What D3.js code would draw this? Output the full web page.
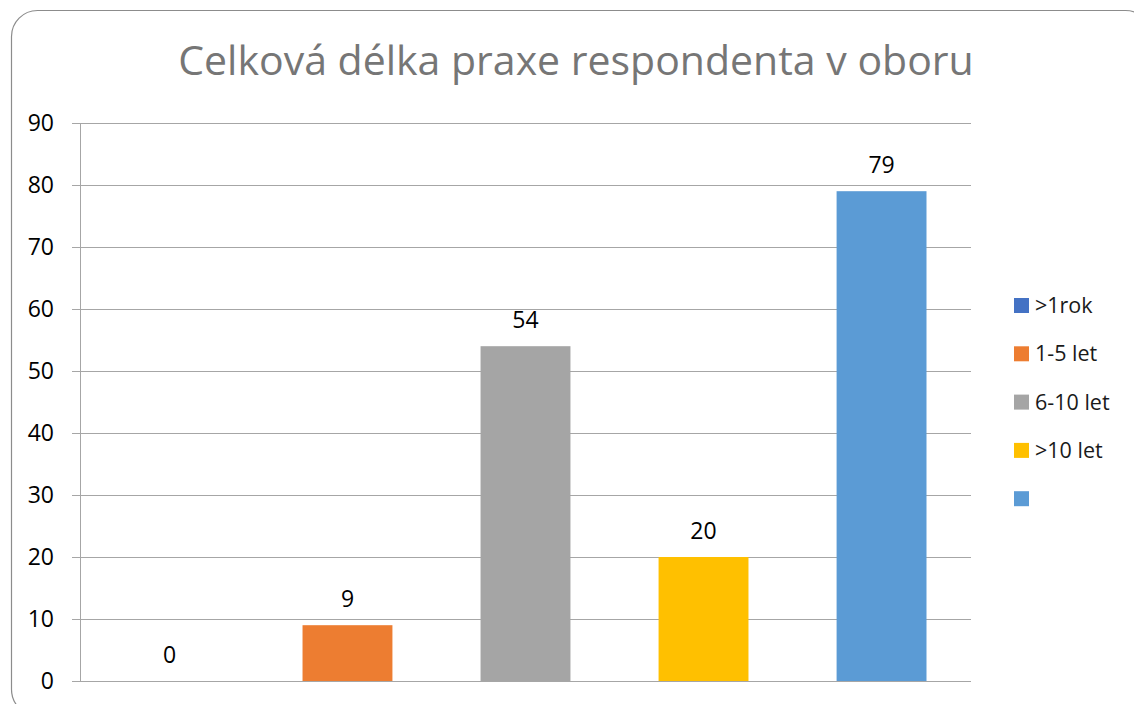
<!DOCTYPE html>
<html>
<head>
<meta charset="utf-8">
<script src="https://cdn.jsdelivr.net/npm/d3@7"></script>
<style>
  body { margin: 0; background: #fff; }
  text { font-family: "Open Sans", "Noto Sans", sans-serif; }
</style>
</head>
<body>
<div id="chart"></div>
<script>
const title = 'Celková délka praxe respondenta v oboru'
const categories = ['>1rok', '1-5 let', '6-10 let', '>10 let', '']
const values = [0, 9, 54, 20, 79]
const colors = ['#4472C4', '#ED7D31', '#A5A5A5', '#FFC000', '#5B9BD5']
const yTicks = [0, 10, 20, 30, 40, 50, 60, 70, 80, 90]

const w = 1134
const h = 704
const margin = { top: 123, right: 163, bottom: 23, left: 80 }
const width = w - margin.left - margin.right
const height = h - margin.top - margin.bottom

const svg = d3.select('#chart').append('svg')
  .attr('width', w)
  .attr('height', h)

// frame
svg.append('rect')
  .attr('x', 11.5).attr('y', 10.5)
  .attr('width', 1140).attr('height', 705)
  .attr('rx', 26).attr('ry', 26)
  .attr('fill', 'none')
  .attr('stroke', '#8c8c8c')
  .attr('stroke-width', 1.2)

svg.append('text')
  .attr('x', 576)
  .attr('y', 75)
  .attr('text-anchor', 'middle')
  .attr('fill', '#767676')
  .style('font-size', '41px')
  .text(title)

const g = svg.append('g').attr('transform', 'translate(' + margin.left + ',' + margin.top + ')')

const x = d3.scaleBand().domain(d3.range(categories.length)).range([0, width]).paddingInner(0.495).paddingOuter(0.25)
const y = d3.scaleLinear().domain([0, 90]).range([height, 0])

// gridlines
g.selectAll('.grid')
  .data(yTicks)
  .enter().append('line')
    .attr('class', 'grid')
    .attr('x1', -8)
    .attr('x2', width)
    .attr('y1', d => Math.round(y(d)) + 0.5)
    .attr('y2', d => Math.round(y(d)) + 0.5)
    .attr('stroke', '#a6a6a6')
    .attr('stroke-width', 1)

g.append('line')
  .attr('x1', 0.5).attr('x2', 0.5)
  .attr('y1', 0).attr('y2', height)
  .attr('stroke', '#a6a6a6')

g.selectAll('.ylab')
  .data(yTicks)
  .enter().append('text')
    .attr('class', 'ylab')
    .attr('x', -26)
    .attr('y', d => y(d) + 8)
    .attr('text-anchor', 'end')
    .attr('fill', '#000')
    .style('font-size', '23px')
    .text(d => d)

const bar = g.selectAll('.bar')
  .data(values)
  .enter().append('g')
    .attr('class', 'bar')

bar.append('rect')
  .attr('x', (d, i) => x(i))
  .attr('y', d => y(d))
  .attr('width', x.bandwidth())
  .attr('height', d => height - y(d))
  .attr('fill', (d, i) => colors[i])

bar.append('text')
  .attr('x', (d, i) => x(i) + x.bandwidth() / 2)
  .attr('y', d => y(d) - 18)
  .attr('text-anchor', 'middle')
  .attr('fill', '#000')
  .style('font-size', '23px')
  .text(d => d)

// legend
const legend = svg.selectAll('.legend')
  .data(categories)
  .enter().append('g')
    .attr('class', 'legend')
    .attr('transform', (d, i) => 'translate(1014,' + (298 + i * 48.3) + ')')

legend.append('rect')
  .attr('width', 15)
  .attr('height', 15)
  .attr('fill', (d, i) => colors[i])

legend.append('text')
  .attr('x', 21)
  .attr('y', 15)
  .attr('fill', '#1a1a1a')
  .style('font-size', '21.5px')
  .text(d => d)
</script>
</body>
</html>
